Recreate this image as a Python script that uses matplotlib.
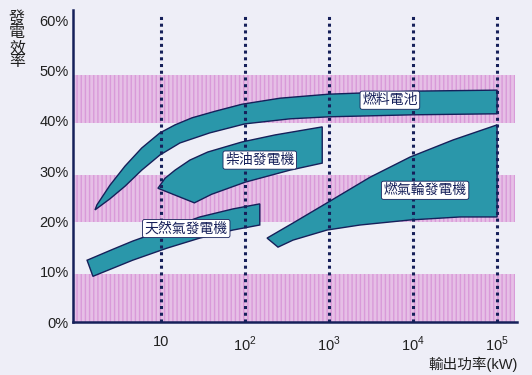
import matplotlib.pyplot as plt

plt.rcParams['font.family'] = ['Liberation Sans', 'Noto Sans CJK TC', 'DejaVu Sans']
plt.rcParams['mathtext.fontset'] = 'custom'
plt.rcParams['mathtext.rm'] = 'Liberation Sans'

# efficiency bands (output kW, efficiency %)
fuel_upper_kw = [1.73, 2.47, 3.73, 5.9, 9.7, 14.7, 23.4, 44, 92, 261, 1000, 1e4, 1e5]
fuel_upper_pct = [23.3, 27.2, 31.0, 34.6, 37.6, 39.2, 40.6, 41.9, 43.3, 44.5, 45.3, 45.9, 46.1]
fuel_lower_kw = [1e5, 1e4, 1000, 343, 100, 38, 16.8, 9.7, 5.9, 3.73, 2.47, 1.64]
fuel_lower_pct = [41.4, 41.2, 40.8, 40.4, 39.4, 37.6, 35.6, 33.2, 30.2, 27.0, 24.5, 22.3]

diesel_upper_kw = [9.2, 11.2, 14.7, 22.1, 36, 92, 228, 830]
diesel_upper_pct = [26.6, 28.6, 30.2, 32.2, 33.8, 35.8, 37.2, 38.8]
diesel_lower_kw = [830, 343, 100, 40, 25]
diesel_lower_pct = [31.6, 30.2, 27.8, 25.4, 23.7]

natgas_upper_kw = [1.32, 2.7, 4.6, 29, 72, 150]
natgas_upper_pct = [12.3, 14.5, 16.1, 20.9, 22.5, 23.5]
natgas_lower_kw = [150, 72, 29, 11.8, 4.6, 1.55]
natgas_lower_pct = [19.3, 18.3, 16.7, 14.7, 12.3, 9.1]

turbine_upper_kw = [183, 373, 947, 3080, 9200, 29900, 1e5]
turbine_upper_pct = [16.7, 19.7, 23.7, 28.8, 32.8, 36.2, 39.2]
turbine_lower_kw = [1e5, 36300, 9200, 2340, 947, 373, 247]
turbine_lower_pct = [20.9, 20.9, 20.3, 19.3, 18.3, 16.3, 14.9]

labels = ['燃料電池', '柴油發電機', '天然氣發電機', '燃氣輪發電機']
label_kw = [5300, 150, 20, 13900]
label_pct = [44.1, 32.2, 18.6, 26.2]

pink_bands = [(0, 9.5), (19.9, 29.3), (39.6, 49.2)]
decades = [10, 100, 1000, 1e4, 1e5]
decade_labels = ['10', '$10^{2}$', '$10^{3}$', '$10^{4}$', '$10^{5}$']
pct_ticks = [0, 10, 20, 30, 40, 50, 60]

BG = '#eeeef7'
TEAL = '#2a97aa'
NAVY = '#16205a'

fig = plt.figure(figsize=(5.32, 3.75), dpi=100, facecolor=BG)
ax = fig.add_axes([0.137, 0.141, 0.835, 0.832])
ax.set_facecolor(BG)
ax.set_xscale('log')
ax.set_xlim(0.895, 1.73e5)
ax.set_ylim(0, 62)

for lo, hi in pink_bands:
    ax.axhspan(lo, hi, xmin=0, xmax=0.995, facecolor='#e6bfe6', edgecolor='#d99ad9',
               hatch='||||', linewidth=0, zorder=1)

shapes = [(fuel_upper_kw, fuel_upper_pct, fuel_lower_kw, fuel_lower_pct),
          (diesel_upper_kw, diesel_upper_pct, diesel_lower_kw, diesel_lower_pct),
          (natgas_upper_kw, natgas_upper_pct, natgas_lower_kw, natgas_lower_pct),
          (turbine_upper_kw, turbine_upper_pct, turbine_lower_kw, turbine_lower_pct)]
for ux, uy, lx, ly in shapes:
    ax.fill(ux + lx, uy + ly, facecolor=TEAL, edgecolor=NAVY, linewidth=1.0, zorder=2)

ax.vlines(decades, 0, 61.4, colors=NAVY, linestyles=(0, (1, 1.2)), linewidth=2.2, zorder=3)

for name, x, y in zip(labels, label_kw, label_pct):
    ax.text(x, y, name, fontsize=10, color=NAVY, ha='center', va='center', zorder=4,
            bbox=dict(boxstyle='round,pad=0.15', facecolor='white', edgecolor=NAVY, linewidth=0.6))

ax.set_xticks(decades)
ax.set_xticklabels(decade_labels, fontsize=10.5, color='#202020')
ax.xaxis.set_minor_locator(plt.NullLocator())
ax.set_yticks(pct_ticks)
ax.set_yticklabels(['%d%%' % v for v in pct_ticks], fontsize=10.5, color='#202020')
ax.tick_params(axis='x', length=0, pad=9)
ax.tick_params(axis='y', length=0, pad=3)

for side in ['top', 'right']:
    ax.spines[side].set_visible(False)
ax.spines['left'].set_color(NAVY)
ax.spines['left'].set_linewidth(1.8)
ax.spines['bottom'].set_color(NAVY)
ax.spines['bottom'].set_linewidth(1.8)

fig.text(17 / 532, 1 - 11 / 375, '\n'.join('發電效率'), fontsize=11.5, color='#202020',
         ha='center', va='top', linespacing=0.95)
fig.text(518 / 532, 1 - 364 / 375, '輸出功率(kW)', fontsize=10.5, color='#202020',
         ha='right', va='center')

fig.savefig('out.png', dpi=100, facecolor=BG)
